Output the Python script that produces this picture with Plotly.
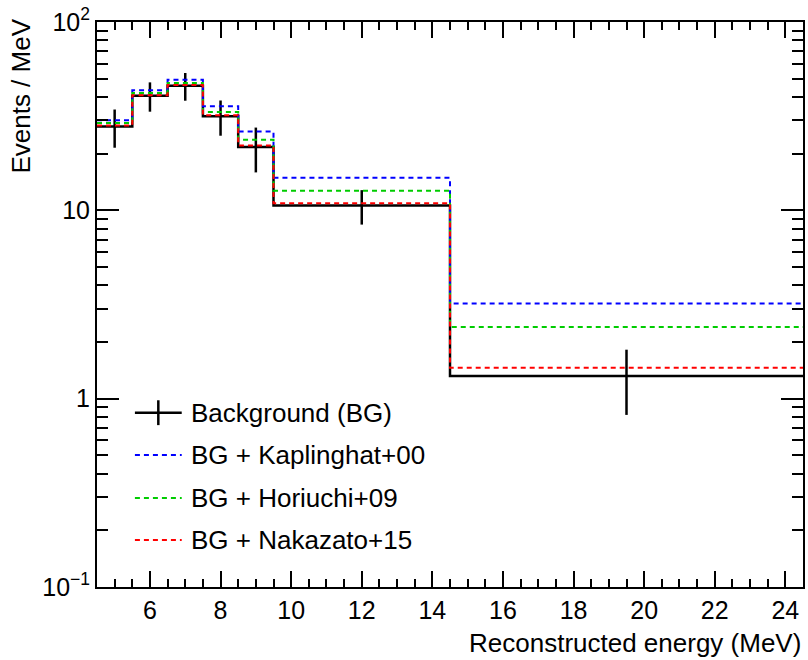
import plotly.graph_objects as go

# Binning (MeV) and per-bin contents (events / MeV)
bin_edges = [4.5, 5.5, 6.5, 7.5, 8.5, 9.5, 14.5, 24.5]
bin_centers = [5.0, 6.0, 7.0, 8.0, 9.0, 12.0, 19.5]
background = [27.9, 40.6, 45.9, 31.6, 21.7, 10.6, 1.32]
background_err = [6.4, 7.2, 7.7, 6.7, 5.8, 2.2, 0.5]
bg_kaplinghat = [30.1, 43.4, 49.4, 35.7, 26.2, 14.9, 3.20]
bg_horiuchi = [29.1, 42.0, 47.5, 33.3, 23.7, 12.7, 2.40]
bg_nakazato = [28.2, 40.9, 46.3, 32.0, 22.1, 10.9, 1.46]

series_names = ["Background (BG)", "BG + Kaplinghat+00",
                "BG + Horiuchi+09", "BG + Nakazato+15"]
series_colors = ["#000000", "#0000ff", "#00cc00", "#ff0000"]

y_tick_vals = [0.1, 1, 10, 100]
y_tick_text = ["10<sup>\u22121</sup>", "1", "10", "10<sup>2</sup>"]
x_tick_vals = [6, 8, 10, 12, 14, 16, 18, 20, 22, 24]

FONT = "Liberation Sans, Arial, Helvetica, sans-serif"
TEXT_SIZE = 26
TICK_SIZE = 25
DASH = "5px,4px"


def step_xy(values):
    return bin_edges, list(values) + [values[-1]]


fig = go.Figure()

# Background histogram (solid) with statistical error bars
sx, sy = step_xy(background)
fig.add_trace(go.Scatter(x=sx, y=sy, mode="lines", line_shape="hv",
                         line=dict(color=series_colors[0], width=2.5),
                         name=series_names[0], showlegend=False))
fig.add_trace(go.Scatter(x=bin_centers, y=background, mode="markers",
                         marker=dict(size=0.1, color="black"),
                         error_y=dict(type="data", array=background_err,
                                      color="black", thickness=2.5, width=0),
                         showlegend=False))

# Background + signal model histograms (dashed)
for vals, name, color in zip([bg_kaplinghat, bg_horiuchi, bg_nakazato],
                             series_names[1:], series_colors[1:]):
    sx, sy = step_xy(vals)
    fig.add_trace(go.Scatter(x=sx, y=sy, mode="lines", line_shape="hv",
                             line=dict(color=color, width=2, dash=DASH),
                             name=name, showlegend=False))

# Hand-placed legend in the lower-left corner of the frame
shapes = []
annotations = []
row_y = [0.3085, 0.2336, 0.1575, 0.0832]
lx0, lx1, tx = 0.0537, 0.120, 0.1305
for i, (name, color) in enumerate(zip(series_names, series_colors)):
    yy = row_y[i]
    shapes.append(dict(type="line", xref="paper", yref="paper",
                       x0=lx0, x1=lx1, y0=yy, y1=yy,
                       line=dict(color=color, width=2.5 if i == 0 else 2,
                                 dash="solid" if i == 0 else DASH)))
    annotations.append(dict(xref="paper", yref="paper", x=tx, y=yy,
                            xanchor="left", yanchor="middle", showarrow=False,
                            text=name,
                            font=dict(family=FONT, size=TEXT_SIZE, color="black")))
xm = (lx0 + lx1) / 2
shapes.append(dict(type="line", xref="paper", yref="paper",
                   x0=xm, x1=xm, y0=row_y[0] - 0.022, y1=row_y[0] + 0.022,
                   line=dict(color="black", width=2.5)))

# Axis titles
annotations.append(dict(xref="paper", yref="paper", x=1.0, y=-0.099,
                        xanchor="right", yanchor="middle", showarrow=False,
                        text="Reconstructed energy (MeV)",
                        font=dict(family=FONT, size=TEXT_SIZE, color="black")))
annotations.append(dict(xref="paper", yref="paper", x=-0.108, y=1.010,
                        xanchor="center", yanchor="top", showarrow=False,
                        textangle=-90, text="Events / MeV",
                        font=dict(family=FONT, size=TEXT_SIZE, color="black")))

y_minor = [m * 10 ** e for e in (-1, 0, 1) for m in range(2, 10)]

fig.update_layout(
    width=808, height=660,
    margin=dict(l=97, r=3, t=22, b=73),
    paper_bgcolor="white", plot_bgcolor="white",
    font=dict(family=FONT, size=TICK_SIZE, color="black"),
    shapes=shapes, annotations=annotations,
    xaxis=dict(range=[4.5, 24.5], tickvals=x_tick_vals,
               ticks="inside", ticklen=16, tickwidth=1.5, tickcolor="black",
               minor=dict(dtick=0.5, tick0=4.5, ticks="inside", ticklen=8,
                          tickwidth=1.5, tickcolor="black", showgrid=False),
               showline=True, linecolor="black", linewidth=2, mirror="allticks",
               showgrid=False, zeroline=False,
               tickfont=dict(family=FONT, size=TICK_SIZE, color="black")),
    yaxis=dict(type="log", range=[-1, 2], tickvals=y_tick_vals, ticktext=y_tick_text,
               ticks="inside", ticklen=22, tickwidth=1.5, tickcolor="black",
               minor=dict(tickvals=y_minor, ticks="inside", ticklen=11,
                          tickwidth=1.5, tickcolor="black", showgrid=False),
               showline=True, linecolor="black", linewidth=2, mirror="allticks",
               showgrid=False, zeroline=False,
               tickfont=dict(family=FONT, size=TICK_SIZE, color="black")),
)

fig.write_html("out.html")
